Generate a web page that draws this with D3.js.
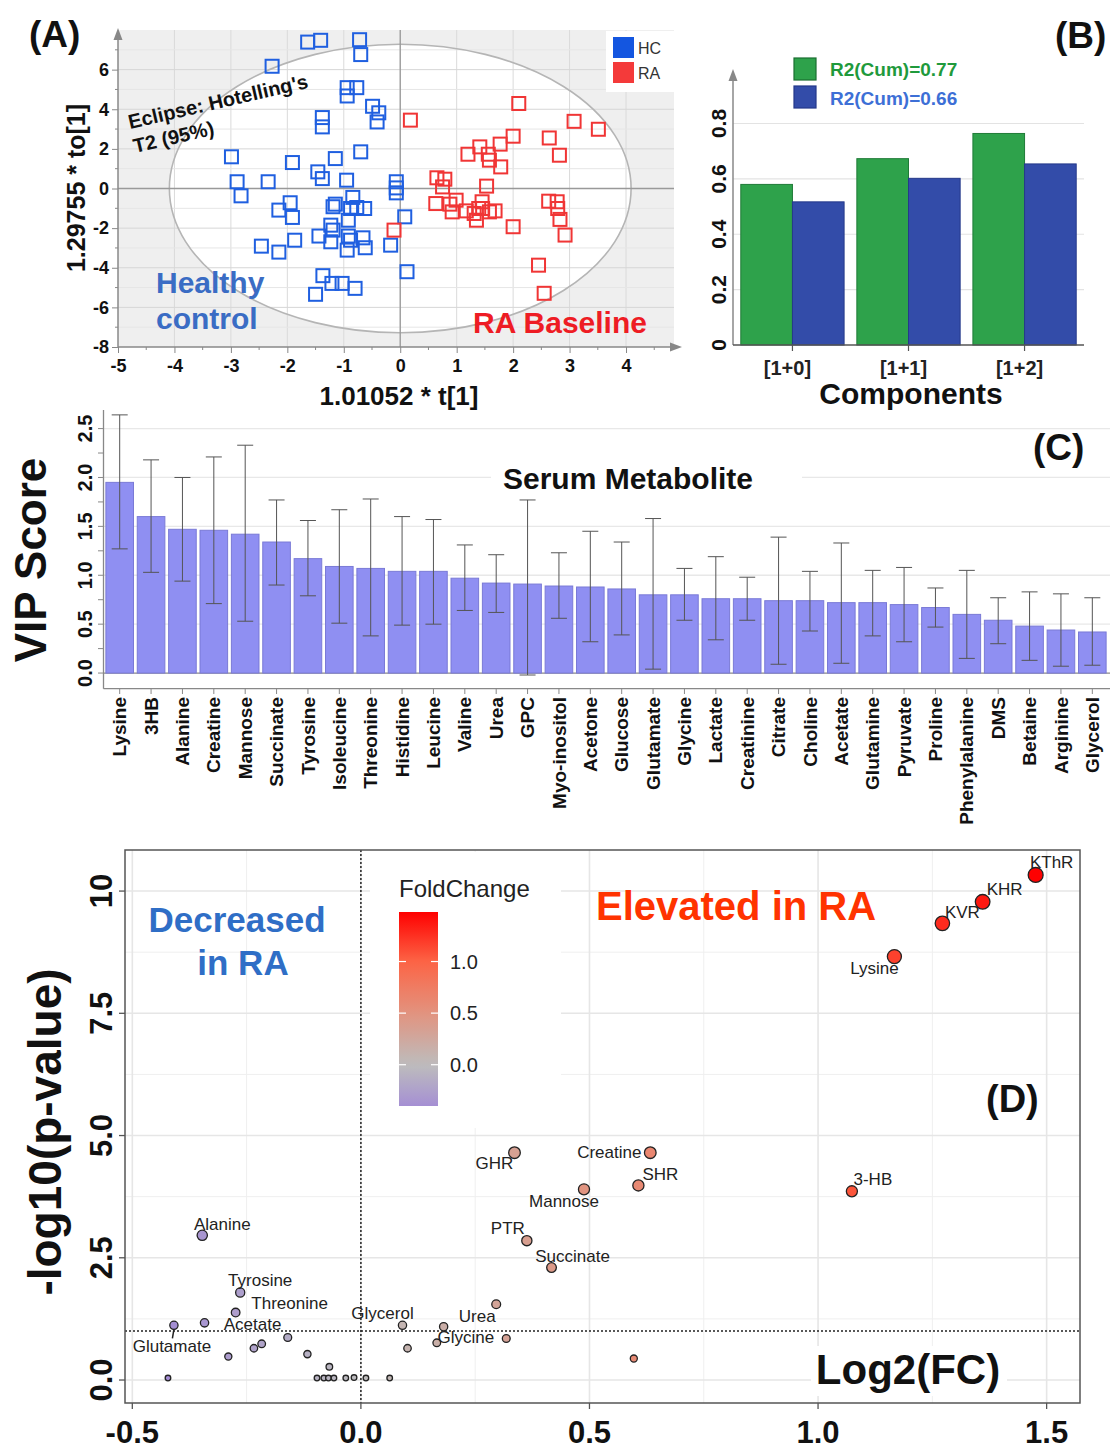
<!DOCTYPE html>
<html>
<head>
<meta charset="utf-8">
<script src="https://cdn.jsdelivr.net/npm/d3@7"></script>
<style>
  body { margin: 0; background: #fff; }
  svg { display: block; font-family: "Liberation Sans", Arial, sans-serif; }
</style>
</head>
<body>
<svg id="fig" width="1110" height="1451"></svg>
<script>
// ---------- data ----------
// (A) OPLS-DA scores, [t[1], to[1]]
const hcScores = [[-1.64,7.39],[-1.41,7.48],[-0.72,7.51],[-0.70,6.76],[-2.27,6.17],[-0.94,5.09],[-0.77,5.09],[-0.94,4.67],
  [-0.49,4.15],[-0.38,3.82],[-0.41,3.36],[-1.38,3.58],[-1.38,3.11],[-2.99,1.60],[-1.91,1.31],[-1.15,1.51],[-0.70,1.85],
  [-2.89,0.34],[-2.34,0.34],[-1.46,0.84],[-1.38,0.50],[-0.95,0.42],[-2.82,-0.37],[-0.07,0.34],[-0.07,0.03],[-0.07,-0.22],
  [-1.95,-0.72],[-2.15,-1.09],[-1.91,-1.46],[-1.19,-0.92],[-1.15,-0.79],[-0.84,-0.45],[-0.88,-1.01],[-0.77,-0.96],
  [-0.63,-1.01],[-0.92,-1.60],[-1.23,-1.85],[-1.19,-2.10],[0.08,-1.43],[-2.46,-2.91],[-2.15,-3.21],[-1.87,-2.61],
  [-1.44,-2.40],[-1.23,-2.69],[-0.92,-2.40],[-0.88,-2.61],[-0.66,-2.49],[-0.62,-2.99],[-0.94,-3.11],[-0.17,-2.86],
  [0.12,-4.20],[-1.37,-4.40],[-1.21,-4.79],[-1.03,-4.79],[-0.80,-5.04],[-1.50,-5.34]];
const raScores = [[0.18,3.45],[2.10,4.29],[3.08,3.39],[3.51,2.99],[2.00,2.64],[2.64,2.55],[1.41,2.10],[1.77,2.24],
  [1.20,1.73],[1.56,1.73],[1.58,1.43],[1.78,1.09],[2.82,1.68],[0.65,0.54],[0.79,0.47],[0.75,0.08],[1.53,0.12],
  [0.63,-0.76],[0.99,-0.59],[0.88,-0.79],[0.92,-1.18],[1.17,-1.13],[1.31,-1.26],[1.35,-1.60],[1.45,-0.67],[1.46,-1.01],
  [1.39,-1.01],[1.58,-1.18],[1.68,-1.13],[-0.11,-2.10],[2.00,-1.93],[2.63,-0.64],[2.78,-0.67],[2.79,-1.01],
  [2.83,-1.56],[2.92,-2.35],[2.45,-3.87],[2.55,-5.29]];
const hotellingRadius = [4.09, 7.28];

// (B) cumulative R2
const components = ["[1+0]", "[1+1]", "[1+2]"];
const r2cumGreen = [0.580, 0.673, 0.764];
const r2cumBlue = [0.517, 0.602, 0.654];
const r2Legend = ["R2(Cum)=0.77", "R2(Cum)=0.66"];

// (C) VIP scores
const metabolites = ["Lysine","3HB","Alanine","Creatine","Mannose","Succinate","Tyrosine","Isoleucine","Threonine",
  "Histidine","Leucine","Valine","Urea","GPC","Myo-inositol","Acetone","Glucose","Glutamate","Glycine","Lactate",
  "Creatinine","Citrate","Choline","Acetate","Glutamine","Pyruvate","Proline","Phenylalanine","DMS","Betaine",
  "Arginine","Glycerol"];
const vipScore = [1.95,1.60,1.47,1.46,1.42,1.34,1.17,1.09,1.07,1.04,1.04,0.97,0.92,0.91,0.89,0.88,0.86,0.80,0.80,
  0.76,0.76,0.74,0.74,0.72,0.72,0.70,0.67,0.60,0.54,0.48,0.44,0.42];
const vipHigh = [2.64,2.18,2.00,2.21,2.33,1.77,1.56,1.67,1.78,1.60,1.57,1.31,1.21,1.77,1.23,1.45,1.34,1.58,1.07,
  1.19,0.98,1.39,1.04,1.33,1.05,1.08,0.87,1.05,0.77,0.83,0.81,0.77];
const vipLow = [1.27,1.03,0.94,0.71,0.53,0.90,0.79,0.51,0.38,0.49,0.50,0.64,0.62,-0.02,0.56,0.32,0.39,0.04,0.54,
  0.34,0.54,0.09,0.43,0.10,0.38,0.32,0.47,0.15,0.30,0.13,0.07,0.08];

// (D) volcano plot
const volcanoName = ["Alanine","Tyrosine","Threonine","Acetate","Glutamate","","","","","","","","","","","","","","","",
  "Glycerol","","","Glycine","","Urea","GHR","PTR","Succinate","Mannose","SHR","Creatine","","3-HB","Lysine","KVR","KHR","KThR"];
const log2FC = [-0.347,-0.264,-0.274,-0.342,-0.409,-0.290,-0.234,-0.217,-0.160,-0.117,-0.069,-0.422,-0.096,-0.081,
  -0.071,-0.059,-0.033,-0.015,0.011,0.063,0.091,0.102,0.181,0.166,0.318,0.296,0.336,0.363,0.417,0.488,0.607,0.633,
  0.597,1.074,1.167,1.272,1.360,1.476];
const negLog10P = [2.96,1.79,1.38,1.17,1.12,0.48,0.65,0.74,0.87,0.53,0.27,0.04,0.04,0.04,0.04,0.04,0.04,0.05,0.04,0.04,
  1.12,0.65,1.09,0.76,0.85,1.55,4.65,2.85,2.30,3.90,3.98,4.65,0.44,3.86,8.66,9.34,9.78,10.33];
const foldTicks = [0.0, 0.5, 1.0];
// label offsets in pixels (repel layout)
const labelNudge = {Alanine:[20,-11],Tyrosine:[20,-12],Threonine:[54,-9],Acetate:[48,2],Glutamate:[-2,21],
  Glycerol:[-20,-12],Urea:[-19,12],Glycine:[29,-5],GHR:[-20,11],PTR:[-19,-12],Succinate:[21,-11],Mannose:[-20,12],
  Creatine:[-41,0],SHR:[22,-11],"3-HB":[21,-12],Lysine:[-20,12],KVR:[20,-11],KHR:[22,-12],KThR:[16,-12]};

const svg = d3.select("#fig");
// plain hyphen minus like the original figure
const fmt1 = d => d3.format(".1f")(d).replace("\u2212", "-");

function arrowUp(g, x, y, col) {
  g.append("path").attr("d", "M" + (x - 4.5) + "," + (y + 12) + "L" + x + "," + y + "L" + (x + 4.5) + "," + (y + 12) + "Z").attr("fill", col);
}
function arrowRight(g, x, y, col) {
  g.append("path").attr("d", "M" + (x - 12) + "," + (y - 4.5) + "L" + x + "," + y + "L" + (x - 12) + "," + (y + 4.5) + "Z").attr("fill", col);
}

// ================= (A) =================
var gA = svg.append("g");
var ax = d3.scaleLinear().domain([-5, 4.85]).range([118, 674]);
var ay = d3.scaleLinear().domain([-8, 8]).range([347, 30]);

gA.append("rect").attr("x", ax(-5)).attr("y", ay(8)).attr("width", ax(4.85) - ax(-5)).attr("height", ay(-8) - ay(8)).attr("fill", "#efefef");
gA.append("ellipse").attr("cx", ax(0)).attr("cy", ay(0))
  .attr("rx", ax(hotellingRadius[0]) - ax(0)).attr("ry", ay(0) - ay(hotellingRadius[1])).attr("fill", "#fff");
gA.selectAll(".gx").data(d3.range(-4, 5)).enter().append("line")
  .attr("x1", d => ax(d)).attr("x2", d => ax(d)).attr("y1", ay(8)).attr("y2", ay(-8))
  .attr("stroke", "#dadada").attr("stroke-width", 1);
gA.selectAll(".gy").data(d3.range(-7, 8)).enter().append("line")
  .attr("x1", ax(-5)).attr("x2", ax(4.85)).attr("y1", d => ay(d)).attr("y2", d => ay(d))
  .attr("stroke", d => d % 2 === 0 ? "#d6d6d6" : "#e6e6e6").attr("stroke-width", 1);
gA.append("ellipse").attr("cx", ax(0)).attr("cy", ay(0))
  .attr("rx", ax(hotellingRadius[0]) - ax(0)).attr("ry", ay(0) - ay(hotellingRadius[1]))
  .attr("fill", "none").attr("stroke", "#b5b5b5").attr("stroke-width", 1.6);
gA.append("line").attr("x1", ax(0)).attr("x2", ax(0)).attr("y1", ay(8)).attr("y2", ay(-8)).attr("stroke", "#999").attr("stroke-width", 1.3);
gA.append("line").attr("x1", ax(-5)).attr("x2", ax(4.85)).attr("y1", ay(0)).attr("y2", ay(0)).attr("stroke", "#999").attr("stroke-width", 1.3);

// axes
var yAxA = d3.axisLeft(ay).tickValues(d3.range(-8, 7, 2)).tickSize(6).tickPadding(3).tickFormat(d => String(d));
var gyA = gA.append("g").attr("transform", "translate(" + ax(-5) + ",0)").call(yAxA);
gyA.select(".domain").remove();
gyA.selectAll(".tick line").attr("stroke", "#888");
gyA.selectAll("text").attr("font-size", 18).attr("font-weight", "bold").attr("fill", "#111").attr("font-family", "Liberation Sans, Arial");
gA.selectAll(".myA").data(d3.range(-7, 8, 2)).enter().append("line")
  .attr("x1", ax(-5) - 3).attr("x2", ax(-5)).attr("y1", d => ay(d)).attr("y2", d => ay(d)).attr("stroke", "#888");
var xAxA = d3.axisBottom(ax).tickValues(d3.range(-5, 5)).tickSize(6).tickPadding(6).tickFormat(d => String(d));
var gxA = gA.append("g").attr("transform", "translate(0," + ay(-8) + ")").call(xAxA);
gxA.select(".domain").remove();
gxA.selectAll(".tick line").attr("stroke", "#888");
gxA.selectAll("text").attr("font-size", 18).attr("font-weight", "bold").attr("fill", "#111").attr("font-family", "Liberation Sans, Arial");
gA.selectAll(".mxA").data(d3.range(-4.5, 4.6, 1)).enter().append("line")
  .attr("x1", d => ax(d)).attr("x2", d => ax(d)).attr("y1", ay(-8)).attr("y2", ay(-8) + 3).attr("stroke", "#888");
gA.append("line").attr("x1", ax(-5)).attr("x2", ax(-5)).attr("y1", ay(-8)).attr("y2", 36).attr("stroke", "#888").attr("stroke-width", 1.5);
arrowUp(gA, ax(-5), 28, "#888");
gA.append("line").attr("x1", ax(-5)).attr("x2", 674).attr("y1", ay(-8)).attr("y2", ay(-8)).attr("stroke", "#888").attr("stroke-width", 1.5);
arrowRight(gA, 682, ay(-8), "#888");

// score points
gA.selectAll(".hc").data(hcScores).enter().append("rect")
  .attr("x", d => ax(d[0]) - 6.5).attr("y", d => ay(d[1]) - 6.5).attr("width", 13).attr("height", 13)
  .attr("fill", "none").attr("stroke", "#1f5fe0").attr("stroke-width", 2);
gA.selectAll(".ra").data(raScores).enter().append("rect")
  .attr("x", d => ax(d[0]) - 6.5).attr("y", d => ay(d[1]) - 6.5).attr("width", 13).attr("height", 13)
  .attr("fill", "none").attr("stroke", "#f03535").attr("stroke-width", 2);

// legend
gA.append("rect").attr("x", 606).attr("y", 31).attr("width", 68).attr("height", 61).attr("fill", "#fff");
[["HC", "#1456e0"], ["RA", "#f43a3a"]].forEach(function(e, i) {
  gA.append("rect").attr("x", 613).attr("y", 37 + i * 25).attr("width", 21).attr("height", 21).attr("fill", e[1]);
  gA.append("text").attr("x", 638).attr("y", 54 + i * 25).attr("font-size", 16).attr("fill", "#333").text(e[0]);
});

gA.append("text").attr("transform", "translate(130,129) rotate(-13)").attr("font-size", 20).attr("font-weight", "bold").attr("fill", "#111").text("Eclipse: Hotelling's");
gA.append("text").attr("transform", "translate(135,153) rotate(-13)").attr("font-size", 20).attr("font-weight", "bold").attr("fill", "#111").text("T2 (95%)");
gA.append("text").attr("x", 156).attr("y", 293).attr("font-size", 30).attr("font-weight", "bold").attr("fill", "#3a6cc4").text("Healthy");
gA.append("text").attr("x", 156).attr("y", 329).attr("font-size", 30).attr("font-weight", "bold").attr("fill", "#3a6cc4").text("control");
gA.append("text").attr("x", 473).attr("y", 333).attr("font-size", 30).attr("font-weight", "bold").attr("fill", "#ee1c24").text("RA Baseline");
gA.append("text").attr("x", 399).attr("y", 405).attr("text-anchor", "middle").attr("font-size", 26).attr("font-weight", "bold").attr("fill", "#111").text("1.01052 * t[1]");
gA.append("text").attr("transform", "translate(76,188) rotate(-90)").attr("text-anchor", "middle").attr("dominant-baseline", "central")
  .attr("font-size", 25).attr("font-weight", "bold").attr("fill", "#111").text("1.29755 * to[1]");
gA.append("text").attr("x", 29).attr("y", 47).attr("font-size", 37).attr("font-weight", "bold").attr("fill", "#111").text("(A)");

// ================= (B) =================
var gB = svg.append("g");
var bx = d3.scaleBand().domain(components).range([735, 1082]).paddingInner(0.11).paddingOuter(0.05);
var by = d3.scaleLinear().domain([0, 0.8]).range([345, 123.5]);
gB.selectAll(".gridB").data([0.2, 0.4, 0.6, 0.8]).enter().append("line")
  .attr("x1", 733).attr("x2", 1084).attr("y1", d => by(d)).attr("y2", d => by(d)).attr("stroke", "#e3e3e3").attr("stroke-width", 1.2);
gB.selectAll(".barG").data(components).enter().append("rect")
  .attr("x", d => bx(d)).attr("y", (d, i) => by(r2cumGreen[i])).attr("width", bx.bandwidth() / 2)
  .attr("height", (d, i) => by(0) - by(r2cumGreen[i])).attr("fill", "#2ea24b").attr("stroke", "#1f7b37").attr("stroke-width", 1);
gB.selectAll(".barB").data(components).enter().append("rect")
  .attr("x", d => bx(d) + bx.bandwidth() / 2).attr("y", (d, i) => by(r2cumBlue[i])).attr("width", bx.bandwidth() / 2)
  .attr("height", (d, i) => by(0) - by(r2cumBlue[i])).attr("fill", "#334ca9").attr("stroke", "#25398a").attr("stroke-width", 1);
gB.append("line").attr("x1", 733).attr("x2", 733).attr("y1", by(0)).attr("y2", 78).attr("stroke", "#888").attr("stroke-width", 1.5);
arrowUp(gB, 733, 69, "#888");
gB.append("line").attr("x1", 733).attr("x2", 1084).attr("y1", by(0)).attr("y2", by(0)).attr("stroke", "#555").attr("stroke-width", 1.6);
gB.selectAll(".tkB").data(components).enter().append("line")
  .attr("x1", d => bx(d) + bx.bandwidth() / 2).attr("x2", d => bx(d) + bx.bandwidth() / 2)
  .attr("y1", by(0)).attr("y2", by(0) + 6).attr("stroke", "#555").attr("stroke-width", 1.2);
gB.selectAll(".xlB").data(components).enter().append("text")
  .attr("x", d => bx(d) + bx.bandwidth() / 2 - 5).attr("y", 375).attr("text-anchor", "middle")
  .attr("font-size", 20).attr("font-weight", "bold").attr("fill", "#222").text(d => d);
gB.selectAll(".ylB").data([0, 0.2, 0.4, 0.6, 0.8]).enter().append("text")
  .attr("transform", d => "translate(718," + by(d) + ") rotate(-90)").attr("text-anchor", "middle").attr("dominant-baseline", "central")
  .attr("font-size", 21).attr("font-weight", "bold").attr("fill", "#111").text(d => d === 0 ? "0" : fmt1(d));
gB.append("text").attr("x", 911).attr("y", 404).attr("text-anchor", "middle").attr("font-size", 30).attr("font-weight", "bold").attr("fill", "#111").text("Components");
[["#2ea24b", "#1a6e30", "#1f9a3c"], ["#334ca9", "#23388a", "#3d6fd6"]].forEach(function(c, i) {
  gB.append("rect").attr("x", 794).attr("y", 58 + i * 28).attr("width", 22).attr("height", 22).attr("fill", c[0]).attr("stroke", c[1]).attr("stroke-width", 1.2);
  gB.append("text").attr("x", 830).attr("y", 76 + i * 29).attr("font-size", 19).attr("font-weight", "bold").attr("fill", c[2]).text(r2Legend[i]);
});
gB.append("text").attr("x", 1055).attr("y", 48).attr("font-size", 37).attr("font-weight", "bold").attr("fill", "#111").text("(B)");

// ================= (C) =================
var gC = svg.append("g");
var cx = d3.scaleBand().domain(metabolites).range([104, 1108]).paddingInner(0.12).paddingOuter(0.06);
var cy = d3.scaleLinear().domain([-0.16, 2.69]).range([688.7, 410]);
gC.selectAll(".gridC").data([0.5, 1.0, 1.5, 2.0, 2.5]).enter().append("line")
  .attr("x1", 104).attr("x2", 1110).attr("y1", d => cy(d)).attr("y2", d => cy(d)).attr("stroke", "#e8e8e8").attr("stroke-width", 1.3);
gC.append("rect").attr("x", 491).attr("y", 462).attr("width", 311).attr("height", 32).attr("fill", "#fff");
gC.append("text").attr("x", 628).attr("y", 489).attr("text-anchor", "middle").attr("font-size", 30).attr("font-weight", "bold").attr("fill", "#111").text("Serum Metabolite");
gC.append("line").attr("x1", 104).attr("x2", 1110).attr("y1", cy(0)).attr("y2", cy(0)).attr("stroke", "#8a8a8a").attr("stroke-width", 1.2);
gC.selectAll(".barC").data(metabolites).enter().append("rect")
  .attr("x", d => cx(d)).attr("y", (d, i) => cy(vipScore[i])).attr("width", cx.bandwidth())
  .attr("height", (d, i) => cy(0) - cy(vipScore[i])).attr("fill", "#8f8ff2").attr("stroke", "#7a7ad6").attr("stroke-width", 1);
var errC = gC.selectAll(".errC").data(metabolites).enter().append("g")
  .attr("transform", d => "translate(" + (cx(d) + cx.bandwidth() / 2) + ",0)");
errC.append("line").attr("x1", 0).attr("x2", 0).attr("y1", (d, i) => cy(vipLow[i])).attr("y2", (d, i) => cy(vipHigh[i])).attr("stroke", "#555").attr("stroke-width", 1);
errC.append("line").attr("x1", -8).attr("x2", 8).attr("y1", (d, i) => cy(vipLow[i])).attr("y2", (d, i) => cy(vipLow[i])).attr("stroke", "#555").attr("stroke-width", 1);
errC.append("line").attr("x1", -8).attr("x2", 8).attr("y1", (d, i) => cy(vipHigh[i])).attr("y2", (d, i) => cy(vipHigh[i])).attr("stroke", "#555").attr("stroke-width", 1);
gC.append("line").attr("x1", 103.5).attr("x2", 103.5).attr("y1", 410).attr("y2", 688.7).attr("stroke", "#888").attr("stroke-width", 1.3);
gC.append("line").attr("x1", 103.5).attr("x2", 1110).attr("y1", 688.7).attr("y2", 688.7).attr("stroke", "#888").attr("stroke-width", 1.3);
gC.selectAll(".tyC").data(d3.range(0, 2.51, 0.25)).enter().append("line")
  .attr("x1", 98).attr("x2", 103.5).attr("y1", d => cy(d)).attr("y2", d => cy(d)).attr("stroke", "#888");
gC.selectAll(".ylC").data([0, 0.5, 1.0, 1.5, 2.0, 2.5]).enter().append("text")
  .attr("transform", d => "translate(85," + cy(d) + ") rotate(-90)").attr("text-anchor", "middle").attr("dominant-baseline", "central")
  .attr("font-size", 20).attr("font-weight", "bold").attr("fill", "#111").text(d => fmt1(d));
gC.selectAll(".txC").data(metabolites).enter().append("line")
  .attr("x1", d => cx(d) + cx.bandwidth() / 2).attr("x2", d => cx(d) + cx.bandwidth() / 2)
  .attr("y1", 688.7).attr("y2", 694).attr("stroke", "#888");
gC.selectAll(".xlC").data(metabolites).enter().append("text")
  .attr("transform", d => "translate(" + (cx(d) + cx.bandwidth() / 2) + ",697) rotate(-90)").attr("text-anchor", "end").attr("dy", "0.35em")
  .attr("font-size", 19).attr("font-weight", "bold").attr("fill", "#111").text(d => d);
gC.append("text").attr("transform", "translate(30,560) rotate(-90)").attr("text-anchor", "middle").attr("dominant-baseline", "central")
  .attr("font-size", 44).attr("font-weight", "bold").attr("fill", "#111").text("VIP Score");
gC.append("text").attr("x", 1033).attr("y", 460).attr("font-size", 37).attr("font-weight", "bold").attr("fill", "#111").text("(C)");

// ================= (D) =================
var gD = svg.append("g");
var dx = d3.scaleLinear().domain([-0.516, 1.573]).range([125, 1080]);
var dy = d3.scaleLinear().domain([-0.47, 10.84]).range([1403, 850]);
var foldColor = d3.scaleLinear().domain([-0.40, 0, 0.5, 1.0, 1.48])
  .range(["#a58fd3", "#bdbdbd", "#e2937f", "#fc6445", "#fe0000"]).interpolate(d3.interpolateRgb);
var rScale = d3.scaleSqrt().domain([0, 10.5]).range([2.5, 7.5]);

gD.selectAll(".mgx").data([-0.25, 0.25, 0.75, 1.25]).enter().append("line")
  .attr("x1", d => dx(d)).attr("x2", d => dx(d)).attr("y1", 850).attr("y2", 1403).attr("stroke", "#efefef").attr("stroke-width", 1);
gD.selectAll(".mgy").data([1.25, 3.75, 6.25, 8.75]).enter().append("line")
  .attr("x1", 125).attr("x2", 1080).attr("y1", d => dy(d)).attr("y2", d => dy(d)).attr("stroke", "#efefef").attr("stroke-width", 1);
gD.selectAll(".gx").data([-0.5, 0, 0.5, 1.0, 1.5]).enter().append("line")
  .attr("x1", d => dx(d)).attr("x2", d => dx(d)).attr("y1", 850).attr("y2", 1403).attr("stroke", "#e6e6e6").attr("stroke-width", 1.6);
gD.selectAll(".gy").data([0, 2.5, 5, 7.5, 10]).enter().append("line")
  .attr("x1", 125).attr("x2", 1080).attr("y1", d => dy(d)).attr("y2", d => dy(d)).attr("stroke", "#e6e6e6").attr("stroke-width", 1.6);

// legend box and title boxes cover the grid
gD.append("rect").attr("x", 370).attr("y", 852).attr("width", 191).attr("height", 276).attr("fill", "#fff");
gD.append("rect").attr("x", 811).attr("y", 1346).attr("width", 196).attr("height", 50).attr("fill", "#fff");

gD.append("line").attr("x1", dx(0)).attr("x2", dx(0)).attr("y1", 850).attr("y2", 1403).attr("stroke", "#222").attr("stroke-width", 1.5).attr("stroke-dasharray", "2,2");
gD.append("line").attr("x1", 125).attr("x2", 1080).attr("y1", dy(1.0)).attr("y2", dy(1.0)).attr("stroke", "#222").attr("stroke-width", 1.5).attr("stroke-dasharray", "2,2");

var volcano = log2FC.map((v, i) => ({name: volcanoName[i], fc: v, p: negLog10P[i]}));
volcano.sort((a, b) => a.p - b.p);
gD.selectAll(".pt").data(volcano).enter().append("circle")
  .attr("cx", d => dx(d.fc)).attr("cy", d => dy(d.p)).attr("r", d => rScale(d.p))
  .attr("fill", d => foldColor(d.fc)).attr("stroke", "#222").attr("stroke-width", 1.3);
var labelled = volcano.filter(d => d.name !== "");
gD.append("line").attr("x1", dx(-0.409)).attr("x2", dx(-0.409) - 1.5).attr("y1", dy(1.12) + 4).attr("y2", dy(1.12) + 13)
  .attr("stroke", "#222").attr("stroke-width", 1.5);
gD.selectAll(".lbl").data(labelled).enter().append("text")
  .attr("x", d => dx(d.fc) + labelNudge[d.name][0]).attr("y", d => dy(d.p) + labelNudge[d.name][1])
  .attr("text-anchor", "middle").attr("dominant-baseline", "central").attr("font-size", 17).attr("fill", "#222").text(d => d.name);

gD.append("rect").attr("x", 125).attr("y", 850).attr("width", 955).attr("height", 553).attr("fill", "none").attr("stroke", "#555").attr("stroke-width", 1.5);
gD.selectAll(".tyD").data([0, 2.5, 5, 7.5, 10]).enter().append("line")
  .attr("x1", 119).attr("x2", 125).attr("y1", d => dy(d)).attr("y2", d => dy(d)).attr("stroke", "#555").attr("stroke-width", 1.3);
gD.selectAll(".ylD").data([0, 2.5, 5, 7.5, 10]).enter().append("text")
  .attr("transform", d => "translate(101," + dy(d) + ") rotate(-90)").attr("text-anchor", "middle").attr("dominant-baseline", "central")
  .attr("font-size", 31).attr("font-weight", "bold").attr("fill", "#111").text(d => d === 10 ? "10" : fmt1(d));
gD.selectAll(".txD").data([-0.5, 0, 0.5, 1.0, 1.5]).enter().append("line")
  .attr("x1", d => dx(d)).attr("x2", d => dx(d)).attr("y1", 1403).attr("y2", 1409).attr("stroke", "#555").attr("stroke-width", 1.3);
gD.selectAll(".xlD").data([-0.5, 0, 0.5, 1.0, 1.5]).enter().append("text")
  .attr("x", d => dx(d)).attr("y", 1443).attr("text-anchor", "middle")
  .attr("font-size", 31).attr("font-weight", "bold").attr("fill", "#111").text(d => fmt1(d));
gD.append("text").attr("transform", "translate(45,1132) rotate(-90)").attr("text-anchor", "middle").attr("dominant-baseline", "central")
  .attr("font-size", 46).attr("font-weight", "bold").attr("fill", "#111").text("-log10(p-value)");

// colour bar
var legY = d3.scaleLinear().domain([-0.40, 1.48]).range([1106, 912]);
var grad = svg.append("defs").append("linearGradient").attr("id", "fcGrad").attr("x1", 0).attr("y1", 1).attr("x2", 0).attr("y2", 0);
d3.range(0, 1.0001, 0.05).forEach(function(t) {
  grad.append("stop").attr("offset", t).attr("stop-color", foldColor(-0.40 + t * 1.88));
});
gD.append("rect").attr("x", 399).attr("y", legY(1.48)).attr("width", 39).attr("height", legY(-0.40) - legY(1.48)).attr("fill", "url(#fcGrad)");
foldTicks.forEach(function(t) {
  gD.append("line").attr("x1", 399).attr("x2", 406).attr("y1", legY(t)).attr("y2", legY(t)).attr("stroke", "#fff").attr("stroke-width", 1.2);
  gD.append("line").attr("x1", 431).attr("x2", 438).attr("y1", legY(t)).attr("y2", legY(t)).attr("stroke", "#fff").attr("stroke-width", 1.2);
  gD.append("text").attr("x", 450).attr("y", legY(t)).attr("dominant-baseline", "central").attr("font-size", 20).attr("fill", "#222").text(fmt1(t));
});
gD.append("text").attr("x", 399).attr("y", 897).attr("font-size", 24).attr("fill", "#222").text("FoldChange");

gD.append("text").attr("x", 237).attr("y", 932).attr("text-anchor", "middle").attr("font-size", 35).attr("font-weight", "bold").attr("fill", "#2f6ec6").text("Decreased");
gD.append("text").attr("x", 243).attr("y", 975).attr("text-anchor", "middle").attr("font-size", 35).attr("font-weight", "bold").attr("fill", "#2f6ec6").text("in RA");
gD.append("text").attr("x", 596).attr("y", 920).attr("font-size", 40).attr("font-weight", "bold").attr("fill", "#ff3300").text("Elevated in RA");
gD.append("text").attr("x", 908).attr("y", 1384).attr("text-anchor", "middle").attr("font-size", 42).attr("font-weight", "bold").attr("fill", "#111").text("Log2(FC)");
gD.append("text").attr("x", 986).attr("y", 1112).attr("font-size", 38).attr("font-weight", "bold").attr("fill", "#111").text("(D)");
</script>
</body>
</html>
